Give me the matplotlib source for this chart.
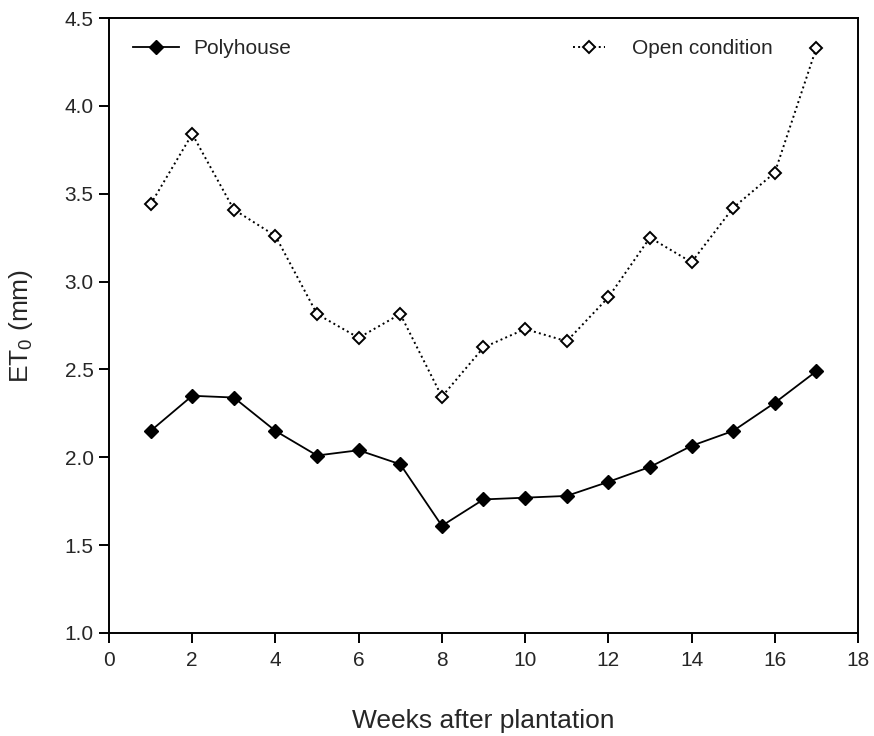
import numpy as np
import matplotlib.pyplot as plt

# weekly reference evapotranspiration (mm)
weeks = np.arange(1, 18)
polyhouse = [2.15, 2.35, 2.34, 2.15, 2.01, 2.04, 1.96, 1.61, 1.76,
             1.77, 1.78, 1.86, 1.945, 2.065, 2.15, 2.31, 2.49]
open_cond = [3.44, 3.84, 3.41, 3.26, 2.815, 2.68, 2.815, 2.345, 2.625,
             2.73, 2.66, 2.91, 3.25, 3.11, 3.42, 3.62, 4.33]

plt.rcParams['font.family'] = ['Liberation Sans', 'DejaVu Sans']
plt.rcParams['mathtext.default'] = 'regular'
txt = '#262626'

fig = plt.figure(figsize=(8.74, 7.36), dpi=100)
ax = fig.add_axes([0.1247, 0.14, 0.857, 0.8355])

l1, = ax.plot(weeks, polyhouse, color='black', lw=1.3, ls='-',
              marker='D', markersize=7, markerfacecolor='black',
              markeredgecolor='black', label='Polyhouse')
l2, = ax.plot(weeks, open_cond, color='black', lw=1.4, ls=':',
              marker='D', markersize=6.3, markerfacecolor='white',
              markeredgecolor='black', markeredgewidth=1.4,
              label='Open condition')

ax.set_xlim(0, 18)
ax.set_ylim(1.0, 4.5)
ax.set_xticks(np.arange(0, 19, 2))
yt = np.arange(1.0, 4.51, 0.5)
ax.set_yticks(yt)
ax.set_yticklabels(['%.1f' % v for v in yt])
ax.tick_params(axis='both', direction='out', length=7, width=1.4,
               labelsize=15, labelcolor=txt, top=False, right=False, pad=4)
ax.tick_params(axis='x', pad=6)
for s in ax.spines.values():
    s.set_linewidth(1.4)

ax.set_xlabel('Weeks after plantation', fontsize=19, color=txt, labelpad=28)
ax.set_ylabel(r'ET$_{0}$ (mm)', fontsize=19, color=txt, labelpad=21)

leg1 = ax.legend(handles=[l1], loc='center left', frameon=False, fontsize=15,
                 handlelength=2.2, handletextpad=0.7, borderpad=0,
                 borderaxespad=0, bbox_to_anchor=(0.032, 0.95))
for t in leg1.get_texts():
    t.set_color(txt)
ax.add_artist(leg1)
leg2 = ax.legend(handles=[l2], loc='center left', frameon=False, fontsize=15,
                 handlelength=1.5, handletextpad=1.3, borderpad=0,
                 borderaxespad=0, bbox_to_anchor=(0.62, 0.95))
for t in leg2.get_texts():
    t.set_color(txt)

fig.savefig('out.png', dpi=100)
